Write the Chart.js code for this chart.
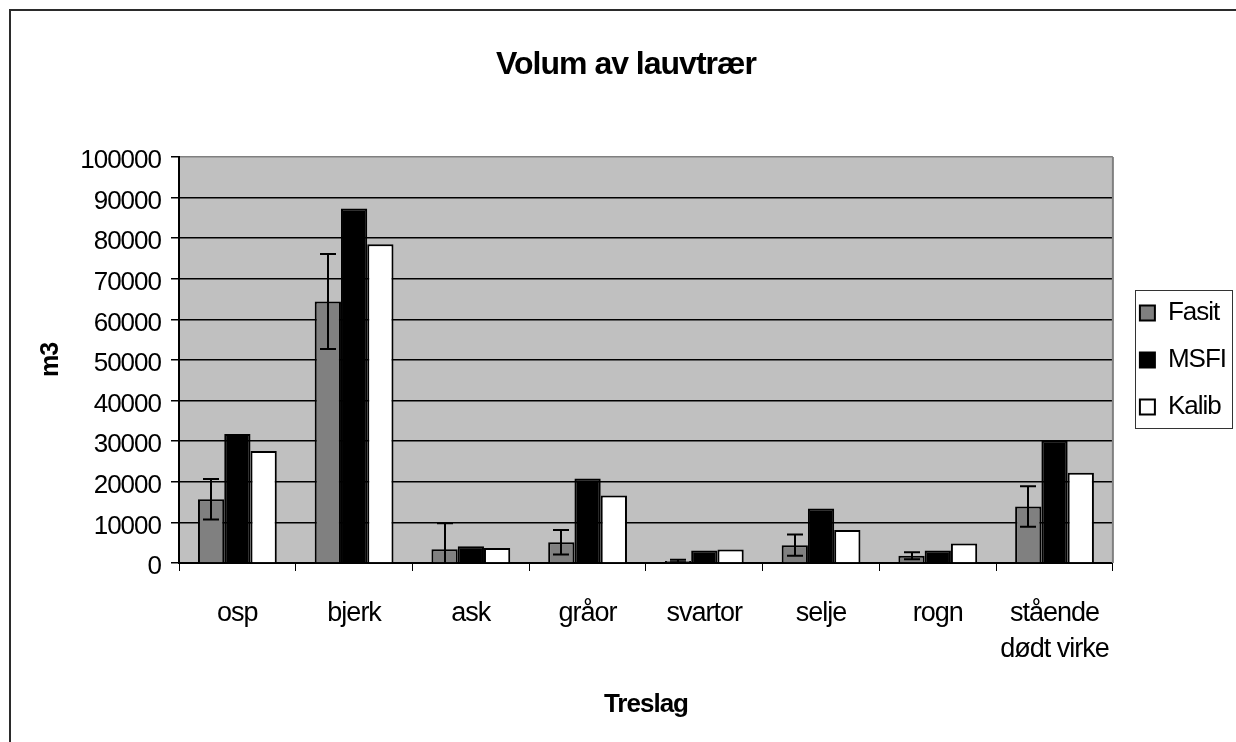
<!DOCTYPE html>
<html><head><meta charset="utf-8">
<script src="https://cdn.jsdelivr.net/npm/chart.js@4.4.1/dist/chart.umd.min.js"></script>
<style>
html,body{margin:0;padding:0;background:#fff;overflow:hidden;width:1236px;height:742px;}
#wrap{position:absolute;left:0;top:0;width:1236px;height:742px;}
</style></head><body>
<div id="wrap"><canvas id="c" width="1236" height="742"></canvas></div>
<script>
// ---- data ----
const categories = ['osp', 'bjerk', 'ask', 'gråor', 'svartor', 'selje', 'rogn', ['stående', 'dødt virke']];
const seriesNames = ['Fasit', 'MSFI', 'Kalib'];
const fasit    = [15700, 64400, 3400, 5100, 500, 4400, 1800, 13900];
const fasitErr = [5000, 11700, 6400, 3000, 300, 2600, 850, 5000];
const msfi     = [31800, 87300, 4100, 20800, 3100, 13400, 3100, 30100];
const kalib    = [27600, 78500, 3700, 16600, 3300, 8100, 4800, 22200];
const yMin = 0, yMax = 100000, yStep = 10000;
const chartTitle = 'Volum av lauvtrær';
const xTitle = 'Treslag';
const yTitle = 'm3';

Chart.defaults.font.family = "'Liberation Sans', Arial, sans-serif";
Chart.defaults.color = '#000';

const LS = '-1px';
const spacingPlugin = {
  id: 'spacing',
  beforeUpdate(c) { c.ctx.letterSpacing = LS; },
  beforeLayout(c) { c.ctx.letterSpacing = LS; },
  beforeDraw(c) {
    const ctx = c.ctx; ctx.letterSpacing = LS;
    const a = c.chartArea;
    ctx.save();
    ctx.lineWidth = 2;
    ctx.strokeStyle = '#2b2b2b';
    ctx.beginPath(); ctx.moveTo(10, c.height + 5); ctx.lineTo(10, 9); ctx.stroke();
    ctx.beginPath(); ctx.moveTo(9, 10); ctx.lineTo(c.width + 5, 10); ctx.stroke();
    ctx.fillStyle = '#c0c0c0';
    ctx.fillRect(a.left, a.top, a.right - a.left, a.bottom - a.top);
    ctx.restore();
  }
};
const frameLines = {
  id: 'frameLines',
  beforeDatasetsDraw(c) {
    const ctx = c.ctx, a = c.chartArea;
    ctx.save();
    ctx.strokeStyle = '#808080'; ctx.lineWidth = 2;
    ctx.beginPath();
    ctx.moveTo(a.right, a.top); ctx.lineTo(a.right, a.bottom);
    ctx.stroke();
    ctx.restore();
  }
};
const errorBars = {
  id: 'errorBars',
  afterDatasetsDraw(c) {
    const ctx = c.ctx, a = c.chartArea, y = c.scales.y;
    const meta = c.getDatasetMeta(0);
    ctx.save();
    ctx.beginPath(); ctx.rect(a.left, a.top, a.right - a.left, a.bottom - a.top); ctx.clip();
    ctx.strokeStyle = '#000'; ctx.lineWidth = 2;
    meta.data.forEach((bar, i) => {
      const x = Math.round(bar.x);
      const hi = fasit[i] + fasitErr[i];
      const lo = fasit[i] - fasitErr[i];
      const yT = y.getPixelForValue(hi);
      const yB = y.getPixelForValue(Math.max(0, lo));
      ctx.beginPath();
      ctx.moveTo(x, yT); ctx.lineTo(x, yB);
      ctx.moveTo(x - 8, yT); ctx.lineTo(x + 8, yT);
      if (lo > 0) { ctx.moveTo(x - 8, yB); ctx.lineTo(x + 8, yB); }
      ctx.stroke();
    });
    ctx.restore();
  }
};
const legendBox = {
  id: 'legendBox',
  afterDraw(c) {
    const hb = c.legend && c.legend.legendHitBoxes;
    if (!hb || !hb.length) return;
    const ctx = c.ctx;
    const left = Math.min(...hb.map(h => h.left)) - 5;
    const right = Math.max(...hb.map(h => h.left + h.width)) + 6;
    const top = hb[0].top - 10;
    const last = hb[hb.length - 1];
    const bottom = last.top + last.height + 8;
    ctx.save();
    ctx.strokeStyle = '#333'; ctx.lineWidth = 1;
    ctx.strokeRect(Math.round(left) + 0.5, Math.round(top) + 0.5, Math.round(right - left), Math.round(bottom - top));
    ctx.restore();
  }
};

new Chart(document.getElementById('c'), {
  type: 'bar',
  data: {
    labels: categories,
    datasets: [
      { label: seriesNames[0], data: fasit, backgroundColor: '#808080', borderColor: '#000', borderWidth: 2 },
      { label: seriesNames[1], data: msfi, backgroundColor: '#000', borderColor: '#000', borderWidth: 2 },
      { label: seriesNames[2], data: kalib, backgroundColor: '#fff', borderColor: '#000', borderWidth: 2 }
    ]
  },
  options: {
    responsive: false,
    animation: false,
    devicePixelRatio: 1,
    layout: { padding: { left: 16, right: 0, top: 0, bottom: 0 } },
    datasets: { bar: { categoryPercentage: 0.675, barPercentage: 1.0 } },
    plugins: {
      tooltip: { enabled: false },
      title: {
        display: true, text: chartTitle, color: '#000',
        font: { size: 32, weight: 'bold' },
        padding: { top: 46, bottom: 72.6 }
      },
      legend: {
        position: 'right', fullSize: false, align: 'center',
        labels: { boxWidth: 15, boxHeight: 15, padding: 21, color: '#000', font: { size: 26 } }
      }
    },
    scales: {
      x: {
        ticks: { color: '#000', font: { size: 27, lineHeight: 1.33 }, padding: 25, maxRotation: 0, autoSkip: false },
        grid: { drawOnChartArea: false, drawTicks: true, tickLength: 8, color: '#000', offset: true },
        border: { display: true, color: '#000', width: 2 },
        title: { display: true, text: xTitle, color: '#000', font: { size: 26, weight: 'bold' }, padding: { top: 0, bottom: 22 } },
        afterFit(s) { s.height = 179; }
      },
      y: {
        min: yMin, max: yMax,
        ticks: { stepSize: yStep, color: '#000', font: { size: 26 }, padding: 10, labelOffset: 4, callback: v => String(v) },
        grid: { color: ctx => (ctx.tick && ctx.tick.value === yMax) ? '#808080' : '#000', tickColor: '#000', lineWidth: 1.5, tickLength: 8 },
        border: { display: true, color: '#000', width: 2 },
        title: { display: true, text: yTitle, color: '#000', font: { size: 25, weight: 'bold' }, padding: { top: 20, bottom: 0 } },
        afterFit(s) { s.width = 163; }
      },
      y2: {
        type: 'linear', position: 'right', display: true,
        grid: { display: false }, ticks: { display: false }, border: { display: false },
        afterFit(s) { s.width = 6; }
      }
    }
  },
  plugins: [spacingPlugin, frameLines, errorBars, legendBox]
});
</script>
</body></html>
